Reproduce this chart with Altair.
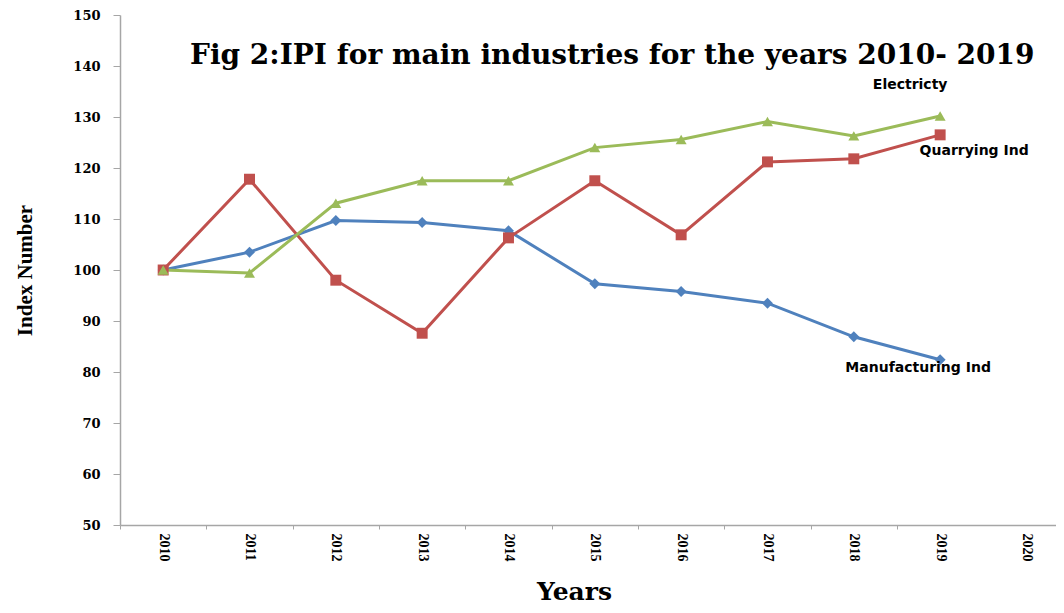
import altair as alt
import pandas as pd

years = list(range(2010, 2020))
manufacturing = [100, 103.5, 109.7, 109.3, 107.7, 97.3, 95.8, 93.5, 86.9, 82.4]
quarrying = [100, 117.8, 98.0, 87.6, 106.3, 117.5, 106.9, 121.2, 121.8, 126.5]
electricity = [100, 99.4, 113.1, 117.5, 117.5, 124.0, 125.6, 129.1, 126.3, 130.2]
series_names = ["Manufacturing Ind", "Quarrying Ind", "Electricty"]
label_years = list(range(2010, 2021))
tick_positions = [y - 0.5 for y in range(2010, 2020)]
y_ticks = list(range(50, 151, 10))

rows = []
for name, vals in zip(series_names, [manufacturing, quarrying, electricity]):
    for yr, v in zip(years, vals):
        rows.append({"Year": yr, "Value": v, "Series": name})
df = pd.DataFrame(rows)

colors = ["#4F81BD", "#C0504D", "#9BBB59"]
shapes = ["diamond", "square", "triangle-up"]
axis_grey = "#A6A6A6"

x_scale = alt.Scale(domain=[2009.5, 2020.342], nice=False, zero=False)
y_scale = alt.Scale(domain=[50, 150], nice=False, zero=False)
color_scale = alt.Scale(domain=series_names, range=colors)
shape_scale = alt.Scale(domain=series_names, range=shapes)

y_axis = alt.Axis(
    values=y_ticks, grid=False, ticks=True, tickSize=7, tickColor=axis_grey,
    domainColor=axis_grey, domainWidth=1.5, labelFont="DejaVu Serif", labelFontWeight="bold",
    labelFontSize=13, labelColor="black", labelPadding=13,
    title="Index Number", titleFont="Liberation Serif", titleFontSize=21,
    titleFontWeight="bold", titleColor="black", titleAngle=-90, titleX=-85,
    titleY=255, titleAlign="center", titleBaseline="bottom",
)

x_label_axis = alt.Axis(
    orient="bottom", values=label_years, ticks=False, domain=True, domainColor=axis_grey,
    domainWidth=1.5, grid=False, labelAngle=90, labelFont="Liberation Serif",
    labelFontWeight="bold", labelFontSize=14, labelPadding=8, labelColor="black", format="d",
    title="Years", titleFont="DejaVu Serif", titleFontSize=25, titleFontWeight="bold",
    titleColor="black", titleX=454, titleY=74, titleBaseline="alphabetic",
    titleAlign="center",
)

x_tick_axis = alt.Axis(
    orient="bottom", values=tick_positions, labels=False, ticks=True, tickSize=4,
    tickColor=axis_grey, domain=False, grid=False, title=None,
)

base = alt.Chart(df)

lines = base.mark_line(strokeWidth=3).encode(
    x=alt.X("Year:Q", scale=x_scale, axis=x_label_axis),
    y=alt.Y("Value:Q", scale=y_scale, axis=y_axis),
    color=alt.Color("Series:N", scale=color_scale, legend=None),
    detail="Series:N",
)

points = base.mark_point(filled=True, opacity=1, size=120).encode(
    x=alt.X("Year:Q", scale=x_scale, axis=x_tick_axis),
    y=alt.Y("Value:Q", scale=y_scale, axis=y_axis),
    color=alt.Color("Series:N", scale=color_scale, legend=None),
    shape=alt.Shape("Series:N", scale=shape_scale, legend=None),
)

label_offsets = {"Electricty": (-30, -31), "Quarrying Ind": (34, 16), "Manufacturing Ind": (-22, 8)}
labels = []
for name in series_names:
    dx, dy = label_offsets[name]
    labels.append(
        base.transform_filter(
            (alt.datum.Series == name) & (alt.datum.Year == years[-1])
        ).mark_text(
            font="DejaVu Sans", fontWeight="bold", fontSize=14, color="black",
            dx=dx, dy=dy, baseline="middle", align="center",
        ).encode(
            x=alt.X("Year:Q", scale=x_scale, axis=None),
            y=alt.Y("Value:Q", scale=y_scale, axis=y_axis),
            text="Series:N",
        )
    )

chart = alt.layer(lines, points, *labels).resolve_axis(x="independent").properties(
    width=936,
    height=510,
    autosize=alt.AutoSizeParams(type="none"),
    padding={"left": 112, "top": 7, "right": 0, "bottom": 80},
    title=alt.TitleParams(
        "Fig 2:IPI for main industries for the years 2010- 2019",
        font="DejaVu Serif", fontSize=28, fontWeight="bold", color="black",
        anchor="start", frame="group", dx=70, offset=-83, baseline="alphabetic",
    ),
).configure_view(stroke=None)

chart.save("out.html", embed_options={"renderer": "svg", "actions": False})
